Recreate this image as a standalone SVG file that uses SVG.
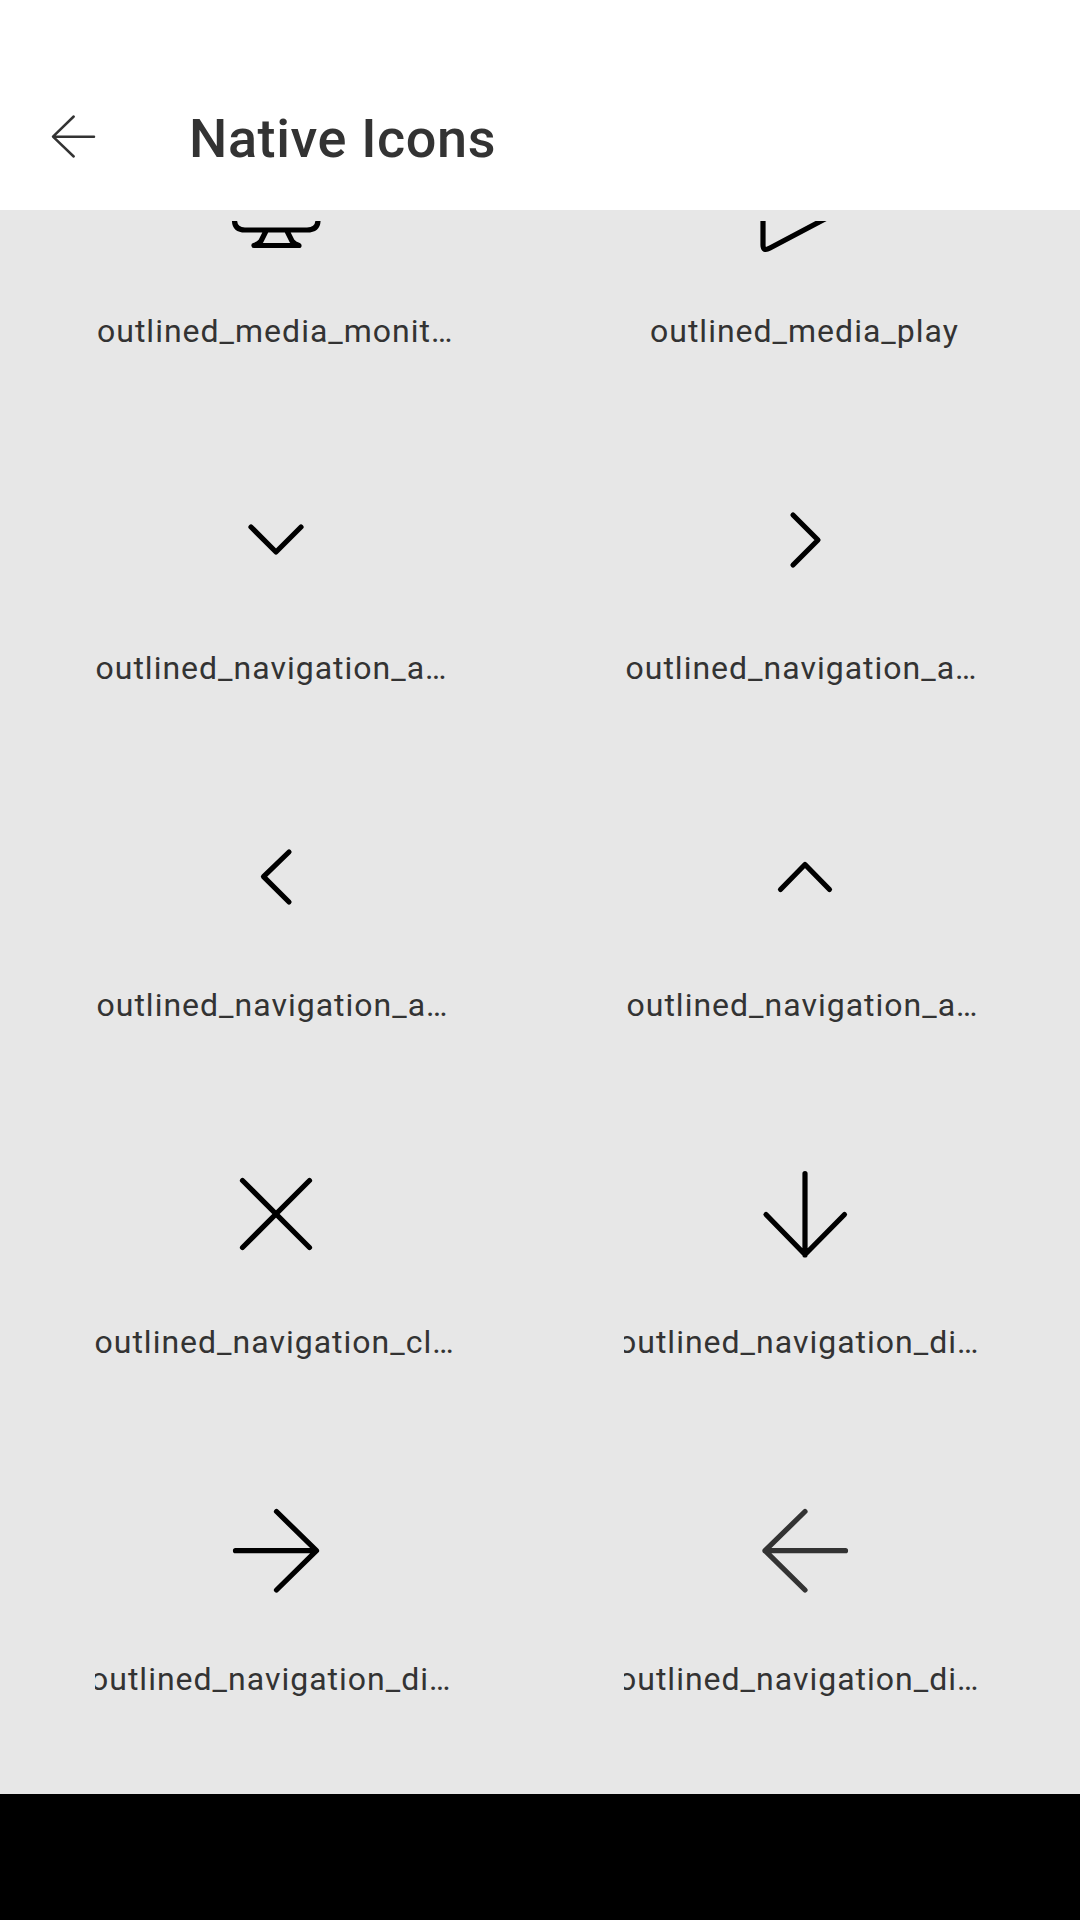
<svg xmlns="http://www.w3.org/2000/svg" width="1080" height="1920" viewBox="0 0 1080 1920">
<style>
.l{font-family:Roboto,"Liberation Sans",sans-serif;font-size:32px;letter-spacing:1px;fill:#333}
.i{fill:none;stroke:#000;stroke-width:5.2;stroke-linecap:round;stroke-linejoin:round}
</style>
<defs>
<clipPath id="top"><rect x="0" y="221" width="1080" height="100"/></clipPath>
<clipPath id="c1"><rect x="95" y="1000" width="400" height="800"/></clipPath>
<clipPath id="c2"><rect x="624" y="1000" width="400" height="800"/></clipPath>
</defs>
<rect id="background" width="1080" height="1920" fill="#e7e7e7"/>
<g id="header">
<rect width="1080" height="210" fill="#fff"/>
<path d="M94 136.700H54M73.700 116.500L53 136.700L73.700 156.500" fill="none" stroke="#333" stroke-width="2.500" stroke-linecap="round" stroke-linejoin="round"/>
<text x="189" y="157" font-family="Roboto,'Liberation Sans',sans-serif" font-weight="500" font-size="54" letter-spacing="0.6" fill="#333">Native Icons</text>
</g>
<g id="n1">
<path class="i" clip-path="url(#top)" d="M234.500 215V220Q234.500 230 245 230H307Q318 230 318 220V215M266 231L261 241Q259 244 254 245.500H299Q294 244 292 241L287 231"/>
<text class="l" x="97" y="342">outlined_media_monit…</text>
</g>
<g id="n2">
<path class="i" clip-path="url(#top)" d="M763 200V245Q763 252 770 248L840 211"/>
<text class="l" x="650" y="342">outlined_media_play</text>
</g>
<g id="n3">
<path class="i" d="M251 527L276 552L301 527"/>
<text class="l" x="95.500" y="679">outlined_navigation_a…</text>
</g>
<g id="n4">
<path class="i" d="M793 515L818 540L793 565"/>
<text class="l" x="625.500" y="679">outlined_navigation_a…</text>
</g>
<g id="n5">
<path class="i" d="M289 852L263.500 876.700L289 902"/>
<text class="l" x="96.500" y="1016">outlined_navigation_a…</text>
</g>
<g id="n6">
<path class="i" d="M780.500 889.500L805 864.500L829.500 889.500"/>
<text class="l" x="626.500" y="1016">outlined_navigation_a…</text>
</g>
<g id="n7">
<path class="i" d="M242.500 1180.500L309.500 1247.500M309.500 1180.500L242.500 1247.500"/>
<text class="l" x="94.500" y="1353">outlined_navigation_cl…</text>
</g>
<g id="n8">
<path class="i" d="M805 1173.500V1255M766 1214.500L805 1254.500L844.500 1214.500"/>
<text class="l" clip-path="url(#c2)" x="618" y="1353">outlined_navigation_di…</text>
</g>
<g id="n9">
<path class="i" d="M235.500 1550.700H316M276.500 1511.500L316.500 1550.700L276.500 1590"/>
<text class="l" clip-path="url(#c1)" x="90" y="1690">outlined_navigation_di…</text>
</g>
<g id="n10">
<path class="i" style="stroke:#333" d="M845.500 1550.700H765M805 1511.500L765 1550.700L805 1590"/>
<text class="l" clip-path="url(#c2)" x="618" y="1690">outlined_navigation_di…</text>
</g>
<rect id="navbar" y="1794" width="1080" height="126" fill="#000"/>
<g id="connectors"/>
</svg>
